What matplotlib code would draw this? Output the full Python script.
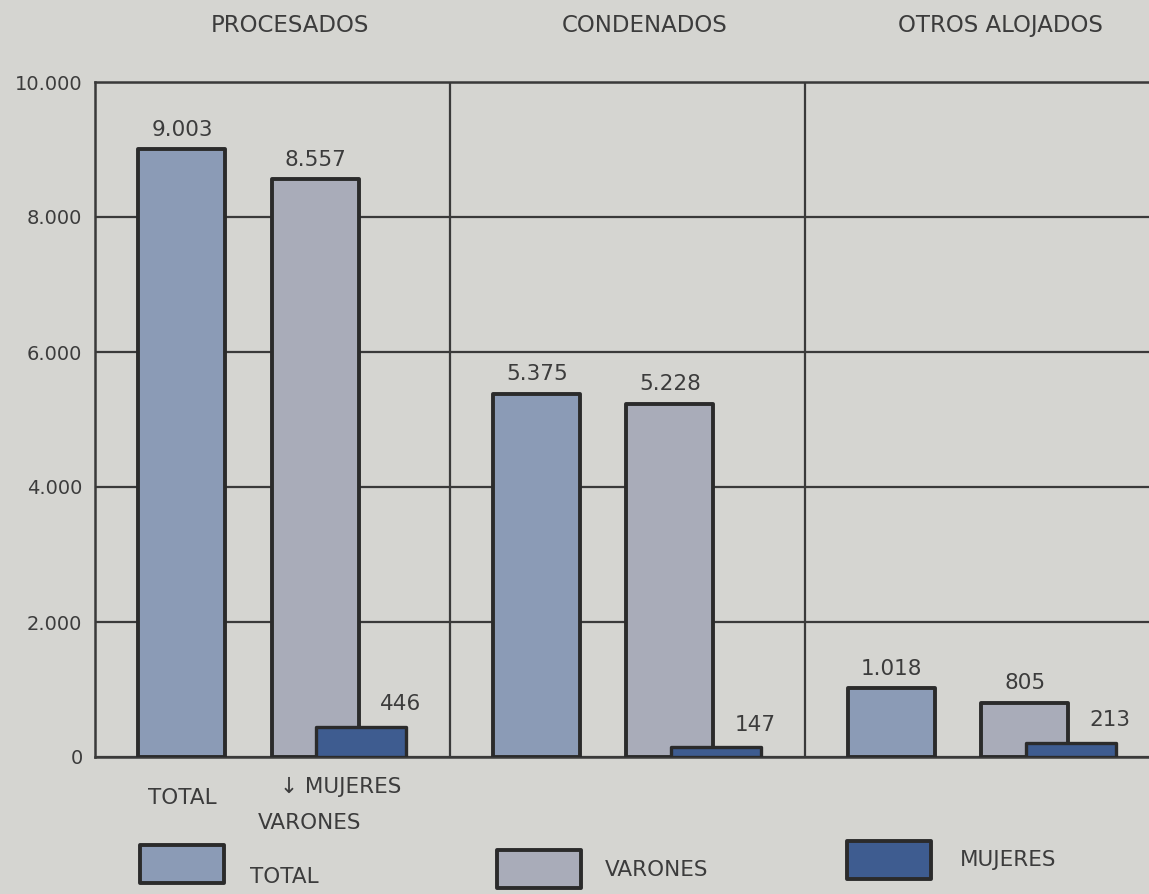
import matplotlib.pyplot as plt
from matplotlib.patches import Rectangle
import numpy as np

# categories and values
grupos = ["PROCESADOS", "CONDENADOS", "OTROS ALOJADOS"]
total = [9003, 5375, 1018]
varones = [8557, 5228, 805]
mujeres = [446, 147, 213]
etiquetas_total = ["9.003", "5.375", "1.018"]
etiquetas_varones = ["8.557", "5.228", "805"]
etiquetas_mujeres = ["446", "147", "213"]
yticks = [0, 2000, 4000, 6000, 8000, 10000]
ytick_labels = ["0", "2.000", "4.000", "6.000", "8.000", "10.000"]
series = ["TOTAL", "VARONES", "MUJERES"]

fondo = "#d5d5d1"
c_total = "#8b9bb6"
c_varones = "#a9acb9"
c_mujeres = "#3e5c90"
borde = "#2b2b2b"
tinta = "#3c3c3c"
linea = "#3a3a3a"

W, H = 1149, 894
fig = plt.figure(figsize=(W/100, H/100), dpi=100, facecolor=fondo)
ax = fig.add_axes([95/W, 1-757/H, 1-95/W, (757-82)/H])
ax.set_facecolor(fondo)

x = np.arange(len(grupos))
bars_t = ax.bar(x + 0.245, total, width=0.245, color=c_total, edgecolor=borde, linewidth=2.8, zorder=3)
bars_v = ax.bar(x + 0.62, varones, width=0.245, color=c_varones, edgecolor=borde, linewidth=2.8, zorder=3)
bars_m = ax.bar(x + 0.75, mujeres, width=0.255, color=c_mujeres, edgecolor=borde, linewidth=2.4, zorder=4)
for b in list(bars_t) + list(bars_v) + list(bars_m):
    b.set_joinstyle('round')

for i in range(len(grupos)):
    ax.annotate(etiquetas_total[i], (x[i] + 0.245, total[i]), xytext=(0, 7), textcoords='offset points',
                ha='center', va='bottom', fontsize=15.5, color=tinta)
    ax.annotate(etiquetas_varones[i], (x[i] + 0.62, varones[i]), xytext=(0, 7), textcoords='offset points',
                ha='center', va='bottom', fontsize=15.5, color=tinta)
    ax.annotate(etiquetas_mujeres[i], (x[i] + 0.75 + 0.11, mujeres[i]), xytext=(0, 9), textcoords='offset points',
                ha='center', va='bottom', fontsize=15.5, color=tinta)
    ax.text(x[i] + 0.55, 1.084, grupos[i], transform=ax.get_xaxis_transform(),
            ha='center', va='center', fontsize=16.5, color=tinta)

ax.set_xlim(0, 2.97)
ax.set_ylim(0, 10000)
ax.set_yticks(yticks)
ax.set_yticklabels(ytick_labels, fontsize=14, color=tinta)
ax.set_xticks([])
ax.tick_params(axis='y', length=0, pad=9)
ax.yaxis.grid(True, color=linea, linewidth=1.6)
ax.set_axisbelow(True)
for xv in [1, 2]:
    ax.axvline(xv, color=linea, linewidth=1.6, zorder=1)
for s in ['left', 'top', 'bottom']:
    ax.spines[s].set_color(linea)
    ax.spines[s].set_linewidth(1.8)
ax.spines['right'].set_visible(False)

# captions under the first group
ax.text(0.245, -0.06, "TOTAL", transform=ax.get_xaxis_transform(), ha='center', va='center',
        fontsize=15.5, color=tinta)
ax.text(0.52, -0.045, "\u2193 MUJERES", transform=ax.get_xaxis_transform(), ha='left', va='center',
        fontsize=15.5, color=tinta)
ax.text(0.605, -0.098, "VARONES", transform=ax.get_xaxis_transform(), ha='center', va='center',
        fontsize=15.5, color=tinta)

# legend boxes along the bottom
leyenda = [(140, 843, c_total, 250, 877), (497, 848, c_varones, 605, 870), (847, 839, c_mujeres, 960, 860)]
for nombre, (px, py, col, tx, ty) in zip(series, leyenda):
    fig.add_artist(Rectangle((px/W, 1-(py+40)/H), 84/W, 38/H, transform=fig.transFigure,
                             facecolor=col, edgecolor=borde, linewidth=2.8, joinstyle='round'))
    fig.text(tx/W, 1-ty/H, nombre, ha='left', va='center', fontsize=15.5, color=tinta)

fig.savefig("out.png", dpi=100, facecolor=fondo)
